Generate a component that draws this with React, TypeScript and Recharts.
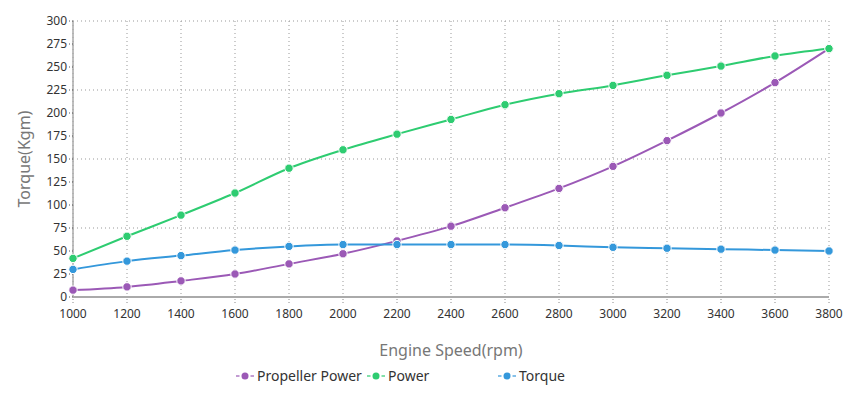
import React from 'react';
import { LineChart, Line, XAxis, YAxis, CartesianGrid, Legend } from 'recharts';

// engine speed (rpm)
const rpm = [1000, 1200, 1400, 1600, 1800, 2000, 2200, 2400, 2600, 2800, 3000, 3200, 3400, 3600, 3800];
const propellerPower = [7.5, 11, 17.5, 25, 36, 47, 61, 77, 97, 118, 142, 170, 200, 233, 270];
const power = [42, 66, 89, 113, 140, 160, 177, 193, 209, 221, 230, 241, 251, 262, 270];
const torque = [30, 39, 45, 51, 55, 57, 57, 57, 57, 56, 54, 53, 52, 51, 50];

const xTicks = [1000, 1200, 1400, 1600, 1800, 2000, 2200, 2400, 2600, 2800, 3000, 3200, 3400, 3600, 3800];
const yTicks = [0, 25, 50, 75, 100, 125, 150, 175, 200, 225, 250, 275, 300];
const gridValues = [75, 150, 225, 300];

const series = [
  { key: 'propeller', name: 'Propeller Power', color: '#9b59b6' },
  { key: 'power', name: 'Power', color: '#2ecc71' },
  { key: 'torque', name: 'Torque', color: '#3498db' },
];

const data = rpm.map((r, i) => ({
  rpm: r,
  propeller: propellerPower[i],
  power: power[i],
  torque: torque[i],
}));

const font = '"Noto Sans", "Open Sans", sans-serif';

function LegendContent() {
  return (
    <div style={{ display: 'flex', paddingLeft: 236, paddingTop: 6, fontFamily: font, fontSize: 14, color: '#333', whiteSpace: 'nowrap' }}>
      {series.map(s => (
        <div key={s.key} style={{ width: 131, flexShrink: 0, display: 'flex', alignItems: 'center' }}>
          <svg width={18} height={10} style={{ marginRight: 3, flexShrink: 0 }}>
            <line x1={0} y1={5} x2={3.5} y2={5} stroke={s.color} strokeWidth={1.2} />
            <line x1={14.5} y1={5} x2={18} y2={5} stroke={s.color} strokeWidth={1.2} />
            <circle cx={9} cy={5} r={3.5} fill={s.color} />
          </svg>
          <span>{s.name}</span>
        </div>
      ))}
    </div>
  );
}

export default function App() {
  return (
    <div style={{ position: 'absolute', left: 0, top: 0, background: '#fff' }}>
      <LineChart width={860} height={400} data={data} margin={{ top: 21, right: 31, left: 10, bottom: 10 }}>
        <CartesianGrid
          stroke="#999"
          strokeDasharray="1 3"
          horizontalValues={gridValues}
          verticalValues={xTicks}
        />
        <XAxis
          dataKey="rpm"
          type="number"
          domain={[1000, 3800]}
          ticks={xTicks}
          height={63}
          stroke="#aaa"
          strokeWidth={2}
          tickSize={6}
          tickMargin={6}
          tickLine={{ stroke: '#888', strokeDasharray: '1 2', strokeWidth: 1 }}
          tick={{ fill: '#333', fontSize: 12, fontFamily: font }}
          label={{ value: 'Engine Speed(rpm)', position: 'insideBottom', offset: 4, fill: '#777', fontSize: 16, fontFamily: font }}
        />
        <YAxis
          domain={[0, 300]}
          ticks={yTicks}
          width={63}
          stroke="#aaa"
          strokeWidth={1.5}
          tickSize={4}
          tickLine={{ stroke: '#555', strokeDasharray: '1 2', strokeWidth: 1 }}
          tick={{ fill: '#333', fontSize: 12, fontFamily: font }}
          label={{ value: 'Torque(Kgm)', angle: -90, position: 'insideLeft', offset: 14, fill: '#777', fontSize: 16, fontFamily: font, style: { textAnchor: 'middle' } }}
        />
        <Legend verticalAlign="bottom" height={30} wrapperStyle={{ left: 0, width: 860 }} content={LegendContent} />
        {series.map(s => (
          <Line
            key={s.key}
            type="monotone"
            dataKey={s.key}
            name={s.name}
            stroke={s.color}
            strokeWidth={2}
            dot={{ r: 4.2, fill: s.color, stroke: '#fff', strokeWidth: 1 }}
            isAnimationActive={false}
          />
        ))}
      </LineChart>
    </div>
  );
}
